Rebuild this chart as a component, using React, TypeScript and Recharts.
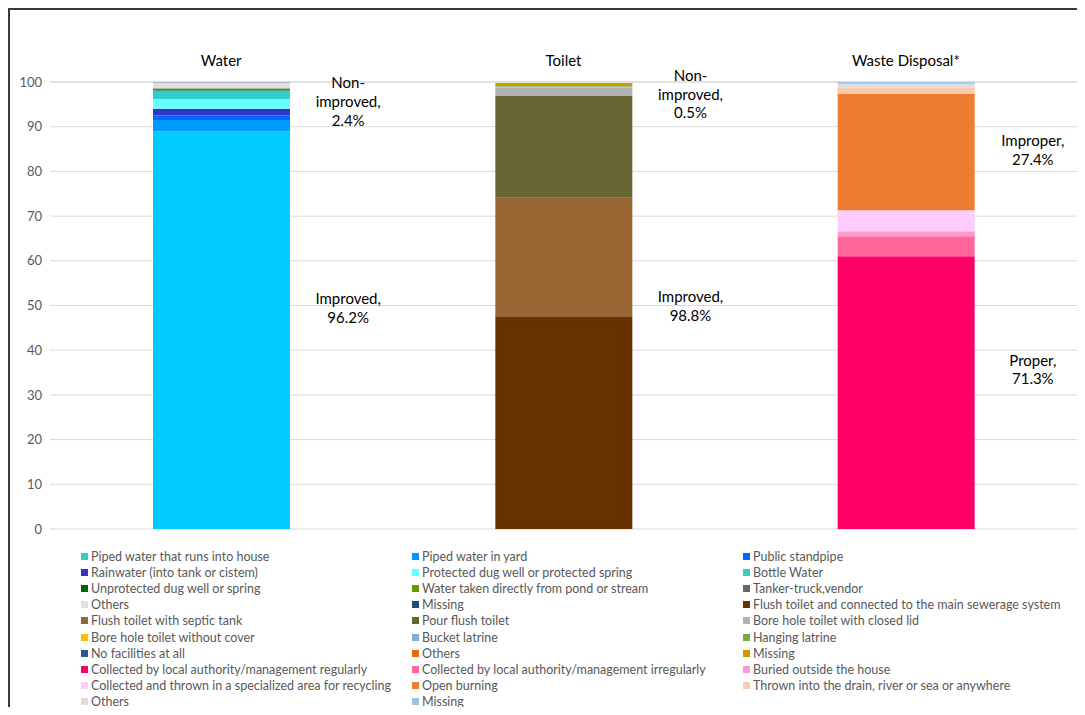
import { BarChart, Bar, XAxis, YAxis, CartesianGrid, ReferenceDot } from 'recharts'

const categories = ['Water', 'Toilet', 'Waste Disposal*']

const waterNames = [
    'Piped water that runs into house',
    'Piped water in yard',
    'Public standpipe',
    'Rainwater (into tank or cistem)',
    'Protected dug well or protected spring',
    'Bottle Water',
    'Unprotected dug well or spring',
    'Water taken directly from pond or stream',
    'Tanker-truck,vendor',
    'Others',
    'Missing',
]
const waterValues = [89.0, 2.5, 1.0, 1.5, 2.2, 1.9, 0.3, 0.15, 0.05, 1.35, 0.05]
const waterColors = ['#00CCFF', '#0099FF', '#0066FF', '#3333CC', '#66FFFF', '#33CCCC', '#006600', '#669900', '#666666', '#E0E0E0', '#1F4E79']

const toiletNames = [
    'Flush toilet and connected to the main sewerage system',
    'Flush toilet with septic tank',
    'Pour flush toilet',
    'Bore hole toilet with closed lid',
    'Bore hole toilet without cover',
    'Bucket latrine',
    'Hanging latrine',
    'No facilities at all',
    'Others',
    'Missing',
]
const toiletValues = [47.6, 26.5, 22.9, 1.8, 0.15, 0.05, 0.15, 0.15, 0.05, 0.4]
const toiletColors = ['#663300', '#996633', '#666633', '#B2B2B2', '#FFC000', '#7FAEDC', '#70AD47', '#2F5597', '#E46C0A', '#CC9900']

const wasteNames = [
    'Collected by local authority/management regularly',
    'Collected by local authority/management irregularly',
    'Buried outside the house',
    'Collected and thrown in a specialized area for recycling',
    'Open burning',
    'Thrown into the drain, river or sea or anywhere',
    'Others',
    'Missing',
]
const wasteValues = [61.0, 4.5, 1.1, 4.7, 26.0, 1.4, 0.9, 0.4]
const wasteColors = ['#FF0066', '#FF6699', '#FF99CC', '#FFCCFF', '#ED7D31', '#F8CBAD', '#DDDDDD', '#9DC3E6']

const yTicks = [0, 10, 20, 30, 40, 50, 60, 70, 80, 90, 100]

const annotations = [
    { cat: 'Water', y: 95.6, lines: ['Non-', 'improved,', '2.4%'] },
    { cat: 'Water', y: 49.4, lines: ['Improved,', '96.2%'] },
    { cat: 'Toilet', y: 97.2, lines: ['Non-', 'improved,', '0.5%'] },
    { cat: 'Toilet', y: 49.9, lines: ['Improved,', '98.8%'] },
    { cat: 'Waste Disposal*', y: 84.8, lines: ['Improper,', '27.4%'] },
    { cat: 'Waste Disposal*', y: 35.6, lines: ['Proper,', '71.3%'] },
]

type Series = { key: string; name: string; cat: string; value: number; color: string }

const groups = [
    { prefix: 'w', cat: categories[0], names: waterNames, values: waterValues, colors: waterColors },
    { prefix: 't', cat: categories[1], names: toiletNames, values: toiletValues, colors: toiletColors },
    { prefix: 'd', cat: categories[2], names: wasteNames, values: wasteValues, colors: wasteColors },
]

const series: Series[] = groups.flatMap(g =>
    g.names.map((name, i) => ({ key: g.prefix + i, name, cat: g.cat, value: g.values[i], color: g.colors[i] }))
)

const data = categories.map(cat => {
    const row: Record<string, string | number> = { cat }
    series.forEach(s => {
        row[s.key] = s.cat === cat ? s.value : 0
    })
    return row
})

// legend swatch in the original differs from the bar for the first item
const legendSwatch: Record<string, string> = { w0: '#33CCCC' }

const FONT = 'Lato, "Liberation Sans", sans-serif'

const makeNote = (lines: string[]) => (props: any) => {
    const { cx, cy } = props
    const x = cx + 127
    return (
        <text x={x} textAnchor="middle" fontSize={15} fill="#000" fontFamily={FONT}>
            {lines.map((l, i) => (
                <tspan key={i} x={x} y={cy + (i - (lines.length - 1) / 2) * 18.7} dy="0.35em">
                    {l}
                </tspan>
            ))}
        </text>
    )
}

export default function App() {
    return (
        <div
            style={{
                position: 'relative',
                width: 1075,
                height: 697,
                borderTop: '2px solid #3a3a3a',
                borderLeft: '2px solid #3a3a3a',
                background: '#fff',
                fontFamily: FONT,
            }}
        >
            <BarChart width={1073} height={540} data={data} margin={{ top: 42, right: 6, bottom: 21, left: 0 }}>
                <CartesianGrid vertical={false} stroke="#D9D9D9" />
                <XAxis
                    dataKey="cat"
                    orientation="top"
                    height={30}
                    tickLine={false}
                    axisLine={false}
                    tickMargin={10}
                    tick={{ fontSize: 15, fill: '#000', fontFamily: FONT }}
                />
                <YAxis
                    width={40}
                    domain={[0, 100]}
                    ticks={yTicks}
                    interval={0}
                    tickLine={false}
                    axisLine={false}
                    tick={{ fontSize: 13, fill: '#595959', fontFamily: FONT }}
                />
                {series.map(s => (
                    <Bar key={s.key} dataKey={s.key} name={s.name} stackId="a" fill={s.color} barSize={137} isAnimationActive={false} />
                ))}
                {annotations.map((a, i) => (
                    <ReferenceDot key={i} x={a.cat} y={a.y} r={0} ifOverflow="visible" shape={makeNote(a.lines)} />
                ))}
            </BarChart>
            <div
                style={{
                    position: 'absolute',
                    left: 71,
                    top: 538,
                    display: 'grid',
                    gridTemplateColumns: '331px 331px 331px',
                    gridAutoRows: '16.2px',
                }}
            >
                {series.map(s => (
                    <div key={s.key} style={{ display: 'flex', alignItems: 'center', fontSize: 12.5, color: '#595959', whiteSpace: 'nowrap' }}>
                        <span
                            style={{
                                display: 'inline-block',
                                width: 7,
                                height: 7,
                                marginRight: 3,
                                background: legendSwatch[s.key] || s.color,
                            }}
                        />
                        {s.name}
                    </div>
                ))}
            </div>
        </div>
    )
}
